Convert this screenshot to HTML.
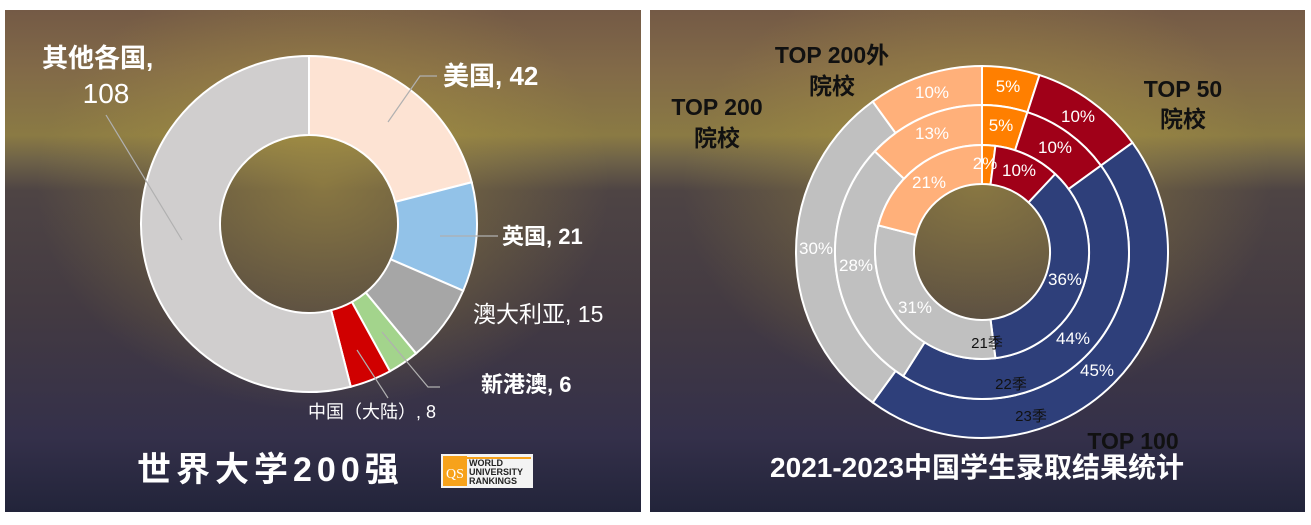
<!DOCTYPE html>
<html><head><meta charset="utf-8"><style>
html,body{margin:0;padding:0;background:#fff;}
body{width:1311px;height:525px;overflow:hidden;position:relative;font-family:"Liberation Sans","Noto Sans CJK SC",sans-serif;}
</style></head><body>
<svg id="s" width="1311" height="525" viewBox="0 0 1311 525" xmlns="http://www.w3.org/2000/svg" style="position:absolute;left:0;top:0">
<defs>
<linearGradient id="bg" x1="0" y1="0" x2="0" y2="1">
<stop offset="0" stop-color="#745a46"/>
<stop offset="0.12" stop-color="#826a48"/>
<stop offset="0.25" stop-color="#8a7a44"/>
<stop offset="0.30" stop-color="#6e6248"/>
<stop offset="0.36" stop-color="#4e4444"/>
<stop offset="0.6" stop-color="#433a42"/>
<stop offset="0.85" stop-color="#34304a"/>
<stop offset="1" stop-color="#22243a"/>
</linearGradient>
<radialGradient id="glow" cx="0.5" cy="0.35" r="0.45">
<stop offset="0" stop-color="#b8a040" stop-opacity="0.55"/>
<stop offset="1" stop-color="#b8a040" stop-opacity="0"/>
</radialGradient>
</defs>
<rect x="5" y="10" width="636" height="502" fill="url(#bg)"/>
<rect x="5" y="10" width="636" height="502" fill="url(#glow)"/>
<rect x="650" y="10" width="655" height="502" fill="url(#bg)"/>
<rect x="650" y="10" width="655" height="502" fill="url(#glow)"/>
<g id="left"></g>
<g id="right"></g>
<g fill="none" stroke="#b0b0b0" stroke-width="1.2">
<polyline points="106,115 182,240"/>
<polyline points="388,122 420,76 437,76"/>
<polyline points="440,236 498,236"/>
<polyline points="382,332 428,387 440,387"/>
<polyline points="357,350 388,398"/>
</g>
<g fill="#fff" font-weight="bold">
<text x="42" y="67" font-size="26">其他各国,</text>
<text x="106" y="103" font-size="28" text-anchor="middle" font-weight="normal">108</text>
<text x="443" y="85" font-size="26">美国, 42</text>
<text x="502" y="244" font-size="22">英国, 21</text>
<text x="473" y="322" font-size="23" font-weight="normal">澳大利亚, 15</text>
<text x="481" y="392" font-size="22">新港澳, 6</text>
<text x="308" y="418" font-size="18" font-weight="normal">中国（大陆）, 8</text>
<text x="137" y="481" font-size="34" letter-spacing="5">世界大学200强</text>
</g>
<rect x="441" y="454" width="92" height="34" fill="#f3f3f3"/>
<rect x="443" y="456" width="24" height="30" fill="#f7a21b"/>
<text x="455" y="478" font-size="14" fill="#fff" text-anchor="middle" font-family="Liberation Serif,serif">QS</text>
<g font-size="9" font-weight="bold" fill="#222"><text x="469" y="466">WORLD</text><text x="469" y="475">UNIVERSITY</text><text x="469" y="484">RANKINGS</text></g>
<rect x="467" y="457" width="64" height="2" fill="#f7a21b"/>
<g fill="#111" font-weight="bold" font-size="23" text-anchor="middle">
<text x="832" y="63">TOP 200外</text><text x="832" y="94">院校</text>
<text x="717" y="115">TOP 200</text><text x="717" y="146">院校</text>
<text x="1183" y="97">TOP 50</text><text x="1183" y="127">院校</text>
<text x="1133" y="449">TOP 100</text>
</g>
<g fill="#fff" font-size="17" text-anchor="middle">
<text x="932" y="98">10%</text><text x="1008" y="92">5%</text><text x="1078" y="122">10%</text>
<text x="932" y="139">13%</text><text x="1001" y="131">5%</text><text x="1055" y="153">10%</text>
<text x="929" y="188">21%</text><text x="985" y="169">2%</text><text x="1019" y="176">10%</text>
<text x="1065" y="285">36%</text><text x="1073" y="344">44%</text><text x="1097" y="376">45%</text>
<text x="816" y="254">30%</text><text x="856" y="271">28%</text><text x="915" y="313">31%</text>
</g>
<g fill="#111" font-size="15" text-anchor="middle">
<text x="987" y="348">21季</text><text x="1011" y="389">22季</text><text x="1031" y="421">23季</text>
</g>
<text x="977" y="477" fill="#fff" font-size="28" font-weight="bold" text-anchor="middle">2021-2023中国学生录取结果统计</text>
</svg>
<script>
function pt(cx,cy,r,a){a=a*Math.PI/180;return [cx+r*Math.sin(a),cy-r*Math.cos(a)];}
function arc(cx,cy,R,r,a0,a1,fill){
 var p1=pt(cx,cy,R,a0),p2=pt(cx,cy,R,a1),p3=pt(cx,cy,r,a1),p4=pt(cx,cy,r,a0);
 var l=(a1-a0)>180?1:0;
 return '<path d="M'+p1+' A'+R+','+R+' 0 '+l+' 1 '+p2+' L'+p3+' A'+r+','+r+' 0 '+l+' 0 '+p4+' Z" fill="'+fill+'" stroke="#fff" stroke-width="2"/>';
}
function donut(cx,cy,R,r,vals,cols,tot){
 var s='',a=0;for(var i=0;i<vals.length;i++){var b=a+vals[i]/tot*360;s+=arc(cx,cy,R,r,a,b,cols[i]);a=b;}return s;}
document.getElementById('left').innerHTML=donut(309,224,168,89,[42,21,15,6,8,108],['#fde3d3','#92c2e8','#a6a6a6','#a3d48c','#d00000','#d0cece'],200);
var cols=['#ff7f00','#a00018','#2e3f7a','#c0c0c0','#ffb07a'];
document.getElementById('right').innerHTML=
 donut(982,252,186,147,[5,10,45,30,10],cols,100)+
 donut(982,252,147,107,[5,10,44,28,13],cols,100)+
 donut(982,252,107,68,[2,10,36,31,21],cols,100);
</script>
</body></html>
